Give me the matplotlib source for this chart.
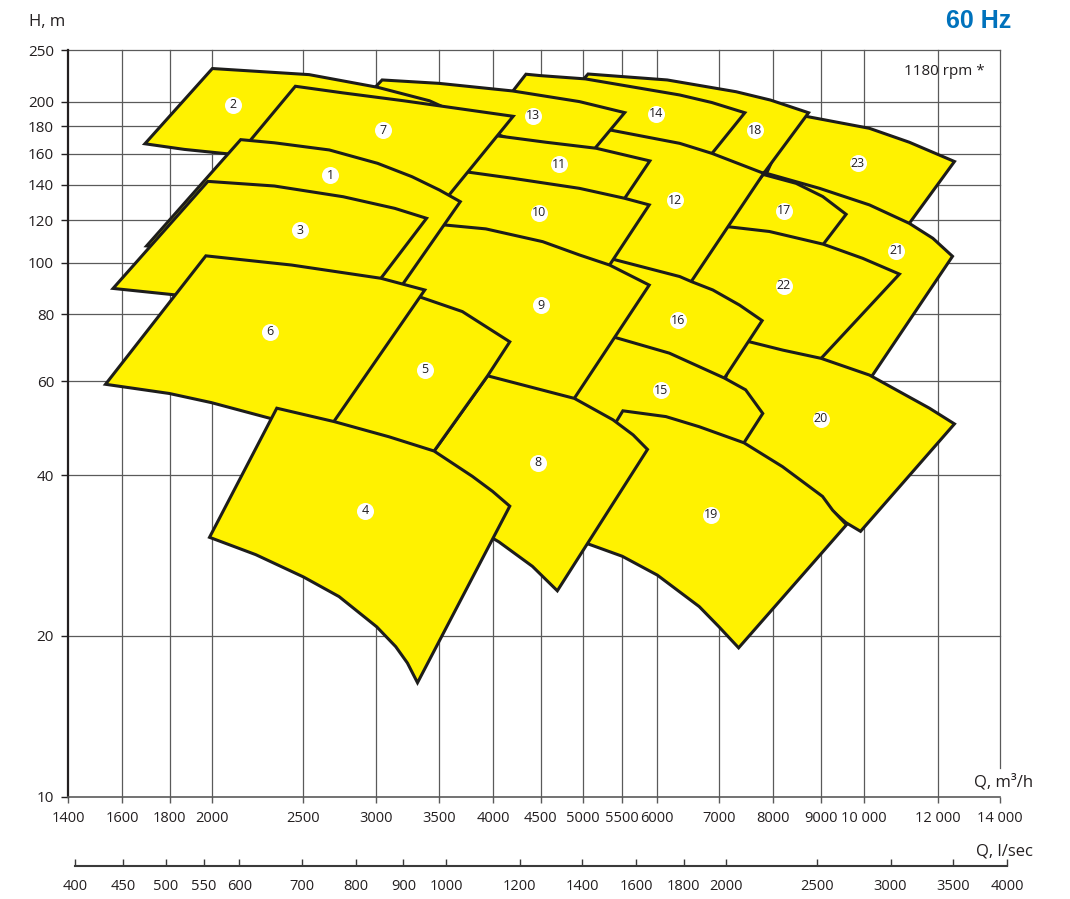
import matplotlib.pyplot as plt
from matplotlib.patches import Polygon

plt.rcParams['font.family'] = ['Open Sans', 'DejaVu Sans']

# axis ticks
q_ticks = [1400, 1600, 1800, 2000, 2500, 3000, 3500, 4000, 4500, 5000, 5500,
           6000, 7000, 8000, 9000, 10000, 12000, 14000]
q_tick_labels = ['1400', '1600', '1800', '2000', '2500', '3000', '3500', '4000',
                 '4500', '5000', '5500', '6000', '7000', '8000', '9000',
                 '10 000', '12 000', '14 000']
h_ticks = [10, 20, 40, 60, 80, 100, 120, 140, 160, 180, 200, 250]
ls_ticks = [400, 450, 500, 550, 600, 700, 800, 900, 1000, 1200, 1400, 1600,
            1800, 2000, 2500, 3000, 3500, 4000]

# working areas (Q m3/h, H m), going round each area from top-left corner
pump_1 = [(2145, 170), (2331, 167.7), (2670, 162.6), (3008, 153.5), (3275, 144.9),
          (3505, 136.8), (3690, 130.1), (3206, 91.5), (3086, 83.3), (2300, 103), (1700, 107.5)]
pump_2 = [(2000, 231), (2540, 225), (3010, 213), (3420, 201), (3600, 193), (3000, 163),
          (2500, 157), (2070, 160), (1866, 163), (1693, 167)]
pump_3 = [(1978, 142), (2331, 139.2), (2763, 132.9), (3139, 126.4), (3395, 121.1),
          (3033, 93.5), (2956, 87.6), (2400, 87), (1829, 87), (1565, 89.5)]
pump_4 = [(2345, 53.4), (2702, 50.4), (3095, 47.2), (3458, 44.4), (3802, 39.8), (3997, 37.3),
          (4170, 35), (3320, 16.35), (3238, 17.8), (3146, 19.1), (3002, 20.8), (2735, 23.7),
          (2504, 25.8), (2226, 28.4), (1986, 30.6)]
pump_5 = [(2900, 88.5), (3331, 86.4), (3709, 81), (4170, 71.1), (3948, 61.4), (3456, 44.3),
          (3387, 42.1), (2900, 46), (2500, 52)]
pump_6 = [(1968, 103), (2432, 99), (3033, 93.5), (3380, 88.9), (2704, 50.6), (2647, 47.9),
          (2450, 49.5), (2308, 51.1), (1995, 54.7), (1798, 56.9), (1536, 59.2)]
pump_7 = [(2455, 214), (2760, 208), (3210, 201), (4205, 188), (3603, 135), (3475, 124),
          (2800, 145), (2105, 155)]
pump_8 = [(3948, 61.4), (4375, 58.6), (4892, 55.7), (5380, 50.8), (5655, 47.6), (5860, 44.7),
          (4690, 24.3), (4410, 27), (4060, 30), (3700, 33), (3380, 40), (3456, 44.3)]
pump_9 = [(3420, 118), (3544, 117.7), (3930, 115.7), (4523, 109.5), (4953, 103.4), (5336, 99),
          (5885, 90.8), (4733, 51.1), (4100, 56), (3500, 60), (2950, 70)]
pump_10 = [(3550, 150), (3771, 147.7), (4200, 143.9), (4953, 137.8), (5539, 132), (5885, 128.3),
           (5336, 99), (5248, 94.8), (4300, 105), (3300, 110)]
pump_11 = [(3700, 175), (4045, 172.8), (4560, 168.1), (5162, 163.8), (5894, 155.1), (5539, 132),
           (5448, 126.5), (4500, 135), (3500, 140)]
pump_12 = [(4900, 182), (5336, 177.3), (6346, 167.3), (6873, 160.2), (7809, 147), (6529, 92.2),
           (6447, 88.9), (5600, 95), (4900, 100)]
pump_13 = [(3042, 219.9), (3500, 216.7), (4200, 209.7), (4953, 200.3), (5539, 191), (5154, 164.2),
           (4994, 152.4), (4500, 163), (4000, 175), (2850, 195)]
pump_14 = [(4340, 225.4), (4504, 224), (5026, 220.9), (6346, 206.1), (6870, 199.5), (7453, 190.9),
           (6873, 160.2), (6729, 152.4), (6000, 166), (5000, 177), (3963, 183.8)]
pump_15 = [(5100, 73), (5402, 72.5), (6186, 67.7), (7087, 60.8), (7468, 57.8), (7791, 52.2),
           (7437, 46), (7315, 44), (6500, 47), (5700, 48.5), (4600, 52)]
pump_16 = [(5200, 103), (5336, 101.9), (6346, 94.2), (6529, 92.2), (6887, 88.9), (7356, 83.3),
           (7779, 77.9), (7087, 60.8), (7000, 58.6), (6000, 63), (4700, 68)]
pump_17 = [(7800, 146.3), (8460, 140.8), (9036, 133), (9572, 123.2), (9048, 108.3), (8923, 104.1),
           (8000, 108), (6900, 112)]
pump_18 = [(5060, 225.6), (6152, 219.9), (7295, 209), (7943, 201.6), (8724, 190.9), (7809, 147),
           (7612, 142.8), (7000, 153), (6000, 172), (4700, 195)]
pump_19 = [(5514, 52.8), (6133, 51.5), (6659, 49.3), (7437, 46), (8180, 41.5), (9031, 36.5),
           (9258, 34.4), (9581, 32.3), (7340, 19), (6993, 20.8), (6659, 22.7), (6004, 26),
           (5506, 28.2), (5072, 29.7), (4584, 31)]
pump_20 = [(7300, 73), (7540, 71.1), (8185, 68.6), (8999, 66.2), (10140, 61.6), (11010, 56.9),
           (11760, 53.4), (12510, 49.9), (9920, 31.4), (9568, 32.6), (9031, 35.6), (8180, 40.5),
           (6800, 45)]
pump_21 = [(7809, 147.5), (8964, 137.8), (10140, 128.3), (11190, 118.5), (11860, 111.1),
           (12450, 102.8), (10220, 61.6), (10060, 59.4), (8500, 63), (7400, 68), (6700, 78),
           (6529, 92.2)]
pump_22 = [(6700, 118), (7145, 116.8), (7920, 114.4), (9048, 108.3), (9973, 101.9), (10920, 95.2),
           (8999, 66.2), (8815, 63.4), (7700, 66), (7400, 72), (6300, 82)]
pump_23 = [(8400, 190), (8707, 187.7), (10140, 178.5), (11190, 168.1), (12510, 154.7),
           (11190, 118.5), (11010, 114.4), (10000, 125), (8800, 135), (7850, 146)]

# bottom to top
draw_order = [23, 18, 14, 21, 17, 22, 20, 12, 16, 15, 19, 13, 2, 11, 10, 7, 9, 8, 1, 3, 5, 6, 4]

label_q = [2675, 2105, 2483, 2916, 3381, 2306, 3049, 4472, 4505, 4483, 4709, 6272,
           4416, 5984, 6059, 6318, 8210, 7641, 6855, 8995, 10830, 8210, 9856]
label_h = [145.9, 197.4, 115.1, 34.3, 63.0, 74.2, 177.2, 42.2, 83.3, 123.9, 153.0, 131.0,
           188.3, 189.9, 57.7, 78.1, 125.0, 177.2, 33.7, 51.0, 105.2, 90.5, 153.7]

areas = {1: pump_1, 2: pump_2, 3: pump_3, 4: pump_4, 5: pump_5, 6: pump_6, 7: pump_7,
         8: pump_8, 9: pump_9, 10: pump_10, 11: pump_11, 12: pump_12, 13: pump_13,
         14: pump_14, 15: pump_15, 16: pump_16, 17: pump_17, 18: pump_18, 19: pump_19,
         20: pump_20, 21: pump_21, 22: pump_22, 23: pump_23}

yellow = '#fff200'
edge = '#1d1d1b'
gridc = '#5a5a5a'
txt = '#231f20'

fig = plt.figure(figsize=(10.7, 8.99), dpi=100)
ax = fig.add_axes([68 / 1070, 102.3 / 899, 932 / 1070, 746.5 / 899])
ax.set_xscale('log')
ax.set_yscale('log')
ax.set_xlim(1400, 14000)
ax.set_ylim(10, 250)

# grid
for q in q_ticks[1:-1]:
    ax.axvline(q, color=gridc, lw=0.9, zorder=0, clip_on=False)
ax.axvline(q_ticks[-1], ymin=0.039, color=gridc, lw=0.9, zorder=0, clip_on=False)
for h in h_ticks[1:]:
    ax.axhline(h, color=gridc, lw=0.9, zorder=0, clip_on=False)

for n in draw_order:
    ax.add_patch(Polygon(areas[n], closed=True, facecolor=yellow, edgecolor=edge,
                         lw=2.2, joinstyle='miter', zorder=1))

ax.scatter(label_q, label_h, s=150, color='white', linewidths=0, zorder=5)
for i, (q, h) in enumerate(zip(label_q, label_h)):
    ax.text(q, h, str(i + 1), ha='center', va='center', fontsize=9, color=txt, zorder=6)

ax.set_xticks(q_ticks, q_tick_labels)
ax.set_xticks([], minor=True)
ax.set_yticks(h_ticks, [str(h) for h in h_ticks])
ax.set_yticks([], minor=True)
ax.tick_params(axis='x', direction='out', length=4, width=1, color=gridc, pad=6,
               labelsize=10.5, labelcolor=txt)
ax.tick_params(axis='y', direction='out', length=5, width=1, color=txt, pad=5,
               labelsize=11, labelcolor=txt)
ax.spines['right'].set_visible(False)
ax.spines['top'].set_visible(False)
ax.spines['left'].set_color(txt)
ax.spines['left'].set_linewidth(1.6)
ax.spines['bottom'].set_color(gridc)
ax.spines['bottom'].set_linewidth(1.2)

# second flow axis in l/sec
ax2 = fig.add_axes([75.3 / 1070, 33 / 899, 931.6 / 1070, 0.0001])
ax2.set_xscale('log')
ax2.set_xlim(400, 4000)
ax2.set_xticks(ls_ticks, [str(v) for v in ls_ticks])
ax2.set_xticks([], minor=True)
ax2.set_yticks([])
ax2.patch.set_visible(False)
for s in ['left', 'right', 'top']:
    ax2.spines[s].set_visible(False)
ax2.spines['bottom'].set_color('#3a3a3a')
ax2.spines['bottom'].set_linewidth(1.5)
ax2.tick_params(axis='x', direction='in', length=5, width=1, color='#3a3a3a', pad=9,
                labelsize=10.5, labelcolor=txt)

fig.text(29 / 1070, 1 - 22 / 899, 'H, m', ha='left', va='center', fontsize=12, color=txt)
fig.text(1033 / 1070, 1 - 782 / 899, 'Q, m³/h', ha='right', va='center', fontsize=12, color=txt)
fig.text(1033 / 1070, 1 - 852 / 899, 'Q, l/sec', ha='right', va='center', fontsize=12, color=txt)
fig.text(1011 / 1070, 1 - 21 / 899, '60 Hz', ha='right', va='center', fontsize=18,
         fontweight='bold', color='#0072bc', family=['Liberation Sans', 'DejaVu Sans'])
ax.text(0.984, 0.971, '1180 rpm *', transform=ax.transAxes, ha='right', va='center',
        fontsize=11, color=txt)

fig.savefig('out.png', dpi=100)
